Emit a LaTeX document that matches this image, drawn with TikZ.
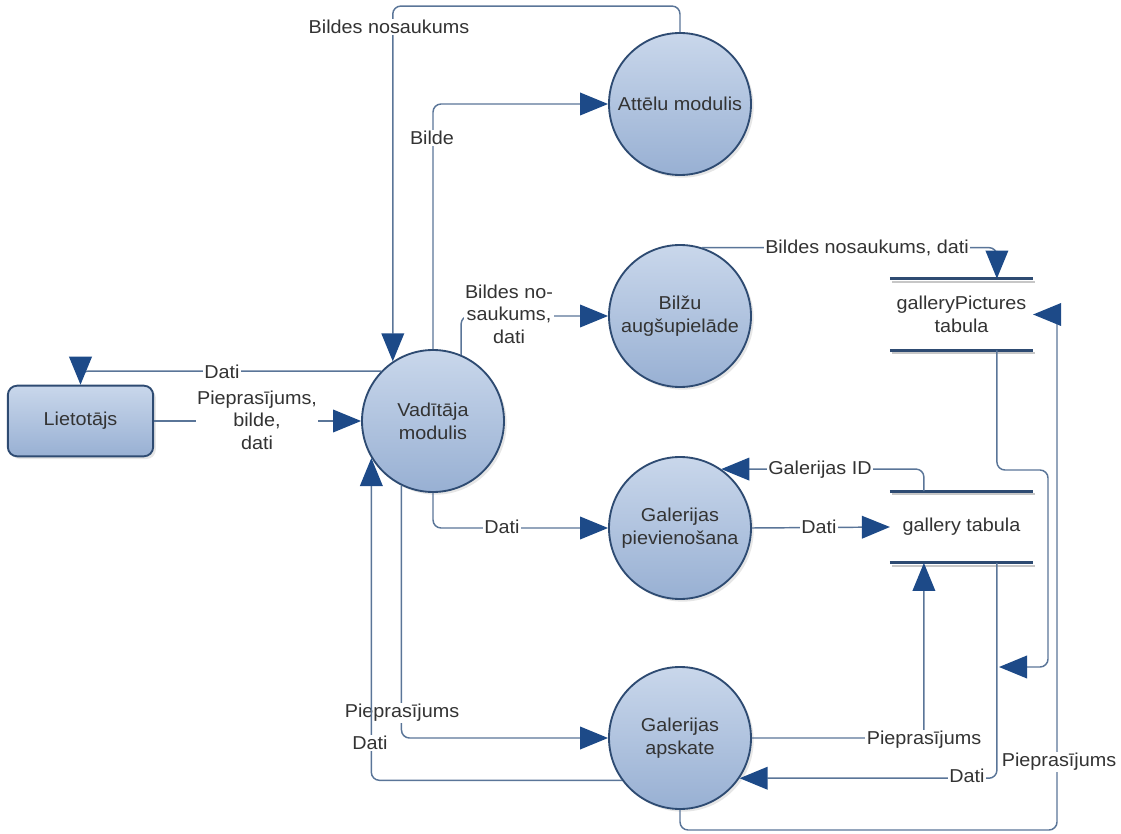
\documentclass[tikz,border=0pt]{standalone}
\usepackage{fontspec}
\setmainfont{Liberation Sans}[FakeStretch=1.06]
\usetikzlibrary{arrows.meta,calc,shadows}
\definecolor{bubtop}{HTML}{C9D7EB}
\definecolor{bubbot}{HTML}{98B0D3}
\definecolor{bubline}{HTML}{2E4B72}
\definecolor{tipblue}{HTML}{1D4A88}
\definecolor{flowline}{HTML}{5A7598}
\definecolor{txt}{HTML}{333333}
\tikzset{
  process/.style={circle, minimum size=106.5pt, inner sep=0pt, draw=bubline, line width=1.4pt,
    top color=bubtop, bottom color=bubbot, align=center, text=txt,
    drop shadow={shadow xshift=2pt, shadow yshift=-2pt, opacity=0.2, fill=black!50}},
  entity/.style={rectangle, rounded corners=7pt, minimum width=109pt, minimum height=53pt, inner sep=0pt,
    draw=bubline, line width=1.4pt, top color=bubtop, bottom color=bubbot, text=txt,
    drop shadow={shadow xshift=2pt, shadow yshift=-2pt, opacity=0.2, fill=black!50}},
  store/.style={rectangle, minimum width=107pt, minimum height=53.5pt, inner sep=0pt, align=center, text=txt},
  storeline/.style={draw=bubline, line width=2.2pt},
  storeshade/.style={draw=black!22, line width=1.5pt},
  flow/.style={draw=flowline, line width=1.1pt, rounded corners=6pt,
    -{Triangle[length=21pt,width=17pt,fill=tipblue,color=tipblue]}},
  lbl/.style={fill=white, inner sep=1pt, align=center, text=txt},
}
\begin{document}
\begin{tikzpicture}[x=0.75pt, y=-0.75pt, font=\fontsize{14}{17}\selectfont]
  \useasboundingbox (0,0) rectangle (1121,834);
  % entities and processes
  \node[entity] (user) at (80.5,421) {Lietotājs};
  \node[process] (vad) at (433,421) {Vadītāja\\modulis};
  \node[process] (att) at (680,104) {Attēlu modulis};
  \node[process] (bil) at (680,316) {Bilžu\\augšupielāde};
  \node[process] (gpv) at (680,528) {Galerijas\\pievienošana};
  \node[process] (gap) at (680,738) {Galerijas\\apskate};
  % data stores
  \node[store] (gpt) at (961.5,314.5) {galleryPictures\\tabula};
  \node[store] (gt) at (961.5,527) {gallery tabula};
  \foreach \s in {gpt,gt}{
    \draw[storeshade] ($(\s.north west)+(2,3)$) -- ($(\s.north east)+(2,3)$);
    \draw[storeshade] ($(\s.south west)+(2,3)$) -- ($(\s.south east)+(2,3)$);
    \draw[storeline] (\s.north west) -- (\s.north east);
    \draw[storeline] (\s.south west) -- (\s.south east);
  }
  \coordinate (gptN) at ($(gpt.north west)+(107,0)$);
  \coordinate (gptS) at ($(gpt.south west)+(107,0)$);
  \coordinate (gtN) at ($(gt.north west)+(34,0)$);
  \coordinate (gtS) at ($(gt.south west)+(34,0)$);
  \coordinate (gtS2) at ($(gt.south west)+(107,0)$);
  \coordinate (m1) at (1048,470);
  \coordinate (j1) at (999,667);
  \coordinate (rr) at (1057,830);
  % flows
  \draw[flow] (att.north) -- ++(0,-26) -| (vad.124);
  \node[lbl] (l1) at (389,27) {Bildes nosaukums};
  \draw[flow] (vad.north) |- (att.west);
  \node[lbl] (l2) at (432,138) {Bilde};
  \draw[flow] (vad.67) |- (bil.west);
  \node[lbl] (l3) at (509,314) {Bildes no-\\saukums,\\dati};
  \draw[flow] (vad.136) -| (user.north);
  \node[lbl] (l4) at (222,372) {Dati};
  \draw[flow] (user.east) -- (vad.west);
  \node[lbl] (l5) at (257,420) {Pieprasījums,\\bilde,\\dati};
  \draw[flow] (vad.south) |- (gpv.west);
  \node[lbl] (l6) at (502,527) {Dati};
  \draw[flow] (gpv.east) -- (gt.west);
  \node[lbl] (l7) at (819,527) {Dati};
  \draw[flow] (gtN) |- (gpv.55);
  \node[lbl] (l8) at (820,470) {Galerijas ID};
  \draw[flow] (bil.72) -| (gptN);
  \node[lbl] (l9) at (867,248) {Bildes nosaukums, dati};
  \draw[flow] (gptS) |- (m1) |- (j1);
  \draw[flow] (gtS2) |- (gap.-34);
  \node[lbl] (l10) at (967,776) {Dati};
  \draw[flow] (gap.east) -| (gtS);
  \node[lbl] (l11) at (924,740) {Pieprasījums};
  \draw[flow] (gap.south) |- (rr) |- (gpt.east);
  \node[lbl] (l12) at (1059,762) {Pieprasījums};
  \draw[flow] (vad.-116) |- (gap.west);
  \node[lbl] (l13) at (402,713) {Pieprasījums};
  \draw[flow] (gap.-144) -| (vad.-149);
  \node[lbl] (l14) at (370,743) {Dati};
\end{tikzpicture}
\end{document}
